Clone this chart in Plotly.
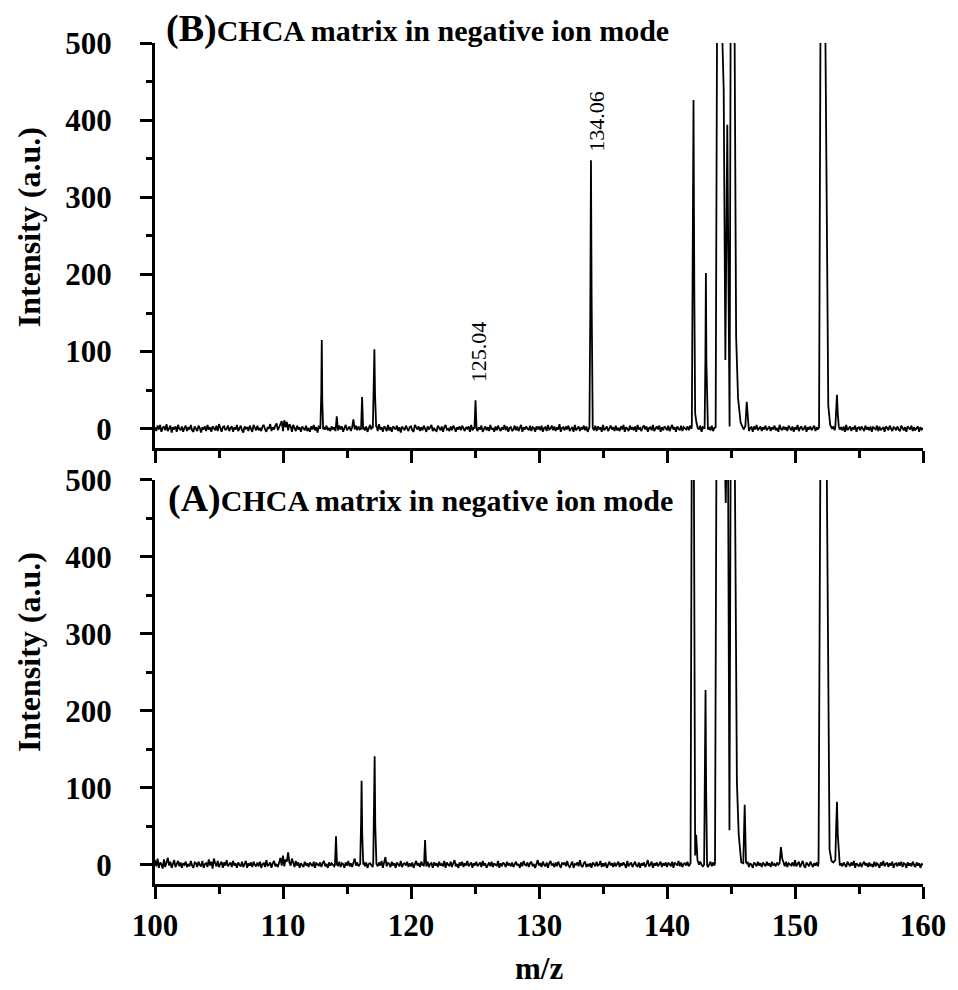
import numpy as np
import plotly.graph_objects as go

FONT = "Liberation Serif, Times New Roman, serif"

# ── baseline noise (m/z 100 → 160, 0.1 steps) ───────────────────────────────
base_b = [
    2, -3, 4, -1, 5, -4, 1, 3, -2, 6, -3, 0, 4, -5, 2, -1, 3, -4, 5, 0,
    -2, 3, -4, 1, 4, -3, 2, -1, 5, -2, -4, 3, 0, -3, 4, 1, -5, 2, -1, 3,
    -3, 5, -1, 2, -4, 3, 1, -2, 4, -3, 6, -1, -4, 2, 3, -2, 0, 4, -3, 1,
    3, -4, 2, -1, 5, -3, 1, 4, -2, -5, 3, 0, 2, -3, 4, -1, -4, 5, 1, -2,
    4, -2, 1, -3, 3, 5, -1, -4, 2, 0, 6, -3, 2, -1, 4, 7, -2, 3, 8, 10,
    -3, 11, 2, 9, -2, 6, 3, -4, 5, 1, -3, 4, -1, 2, -4, 3, 0, -2, 4, -3,
    1, -4, 3, -1, 5, -2, 2, -5, 4, 0, 3, -3, 2, -1, 4, -2, 1, -3, 3, -1,
    2, -3, 8, -2, 4, -1, 3, -4, 1, 5, -2, 0, 3, -3, 2, 12, -1, 4, -2, 3,
    -1, 4, -3, 2, -2, 3, -4, 1, 5, -1, 3, -2, 0, 4, -3, 6, -1, 2, -4, 3,
    1, -3, 5, -2, 2, -4, 3, 0, -1, 4, -3, 2, -5, 3, 1, -2, 4, -1, -3, 2,
    3, -2, -4, 5, 1, -1, 3, -3, 2, -2, 4, 0, -4, 3, -1, 2, 5, -3, 1, -2,
    -3, 4, 1, -2, 3, -4, 2, 5, -1, 0, -3, 3, -2, 4, 1, -4, 2, -1, 3, -2,
    4, -1, -3, 2, 0, 3, -4, 5, -2, 1, 2, 3, -3, 2, -1, 4, -4, 1, 3, -2,
    2, -3, 5, -1, 1, -4, 3, -2, 4, 0, -3, 2, -1, 5, -2, 3, -4, 1, 2, -3,
    -1, 4, -2, 3, -3, 1, 5, -4, 2, -1, 3, 0, -2, 4, -3, 2, 1, -4, 3, -1,
    3, -2, 4, -4, 1, 2, -3, 5, -1, 0, 4, -2, 3, -3, 2, -1, 6, -4, 1, 2,
    -2, 3, -1, 4, -3, 0, 2, -4, 5, -2, 1, 3, -3, 2, -1, 4, -2, 3, -4, 1,
    2, 0, 1, -2, 4, -3, 3, -1, 2, -4, 5, -2, 1, 3, -3, 0, 4, -1, 2, -3,
    4, -2, 1, -3, 3, -1, 5, -4, 2, 0, -3, 4, -1, 2, -2, 3, -4, 5, -1, 1,
    -3, 2, 4, -1, 3, -4, 1, 2, -2, 5, -3, 0, 3, -1, 4, -4, 2, -2, 3, 1,
    -2, 4, -3, 1, 5, -1, 2, -4, 3, 0, -2, 4, -3, 2, 1, -1, 3, -2, 4, 0,
    1, -2, 3, -3, 2, -1, 4, -4, 2, 1, -3, 3, -1, 2, -2, 4, -3, 1, 2, -1,
    2, -1, 3, -2, 1, 0, 2, -3, 4, -1, 2, -2, 3, 1, -3, 2, -1, 3, -2, 1,
    -1, 3, -2, 4, -3, 1, 2, -4, 3, -1, 5, -2, 0, 3, -3, 2, -1, 4, -2, 1,
    3, -3, 2, -1, 4, -2, 1, -4, 5, 0, -2, 3, -1, 2, -3, 4, 1, -2, 3, -4,
    2, -1, 5, -3, 1, 3, -2, 0, 4, -4, 2, -1, 3, -2, 1, 4, -3, 2, -1, 3,
    -2, 1, 3, -3, 2, -1, 4, -4, 2, 0, 3, -2, 1, -3, 4, -1, 2, -2, 3, -4,
    5, -2, 1, 3, -3, 2, -1, 4, -4, 1, 2, -2, 3, 0, -3, 4, -1, 2, -2, 3,
    -4, 2, 1, -1, 4, -3, 3, -2, 0, 2, -4, 3, 1, -2, 4, -1, -3, 2, 1, -2,
    3, -1, -3, 4, 0, -2, 2, -4, 3, 1, -1, 4, -3, 2, -2, 1, 3, -4, 2, -1,
    1,
]

base_a = [
    6, -2, 8, -4, 3, 1, -5, 7, -3, 2, 9, -1, 4, -4, 2, 6, -3, 1, 5, -2,
    3, -4, 2, 0, 4, -3, 1, -2, 5, -1, -4, 3, 2, -3, 4, 0, -2, 5, -4, 1,
    2, -3, 7, -1, 4, -5, 8, 2, -2, 5, -3, 1, 4, -4, 3, -1, 6, -2, 0, 3,
    -3, 5, -1, 2, -4, 3, 0, -2, 4, -3, 1, 5, -4, 2, -1, 3, -3, 4, 0, -2,
    3, -2, 4, -4, 1, 2, -3, 6, -1, 0, 3, -4, 2, 5, -2, 1, -3, 4, 9, -1,
    12, -2, 7, 4, 16, 3, -1, 8, 2, -3, 5, -1, 3, -4, 2, 0, -3, 4, -1, 2,
    -3, 3, 1, -2, 4, -4, 2, 0, -1, 3, -3, 2, 5, -2, 1, -4, 3, -1, 2, 0,
    -2, 3, 0, -1, 4, -3, 2, 1, -4, 3, -1, 5, -2, 2, -3, 4, 8, -1, 3, -2,
    1, -3, 2, 4, -2, 3, -4, 1, 2, -1, -3, 4, 0, 2, -2, 3, -1, 5, -4, 2,
    10, -2, 3, 1, -3, 4, -1, 2, -4, 3, 0, -2, 5, -3, 1, 2, -1, 4, -3, 2,
    -2, 3, -4, 1, 5, -1, 2, -3, 4, 0, -1, 3, -2, 4, -3, 1, 2, -4, 3, -1,
    2, -3, 4, -1, 1, -2, 5, -4, 3, 0, -1, 4, -3, 2, 6, -2, 1, -4, 3, -1,
    4, -3, 2, -1, 5, -2, 1, 3, -4, 2, -1, 4, -2, 0, 3, -3, 5, -1, 2, -4,
    1, 3, -2, 4, -3, 2, 0, -1, 5, -4, 2, -2, 3, 1, -3, 4, -1, 2, -2, 3,
    -3, 2, 4, -1, 1, -4, 3, -2, 5, 0, -1, 3, -3, 2, 4, -2, 1, -4, 3, 6,
    -1, 2, -3, 4, 0, -2, 3, -4, 2, 5, -1, 1, -3, 3, -2, 4, 0, -4, 2, 1,
    3, -2, 5, -1, -3, 2, 4, -4, 1, 0, 3, -2, 6, -1, -3, 2, 4, -3, 1, -2,
    2, -4, 3, 1, -2, 4, -1, 0, 5, -3, 2, -2, 3, -4, 1, 4, -1, 2, -3, 3,
    -2, 1, 4, -3, 2, -1, 3, 0, -4, 5, -2, 1, 3, -3, 2, 4, -1, -2, 3, -4,
    2, -1, 3, -3, 1, 6, -2, 0, 4, -4, 2, -1, 3, -2, 1, 4, -3, 2, -1, 3,
    -3, 2, 1, -2, 4, -4, 3, 0, -1, 5, -2, 3, -3, 1, 2, -1, 4, -2, 1, 3,
    1, -2, 3, -1, 2, -3, 4, 0, -2, 3, -1, 2, -3, 1, 4, -2, 3, -1, 2, 0,
    2, -1, 3, -2, 1, 0, 2, -3, 4, -1, 2, -2, 3, 1, -3, 2, -1, 3, -2, 1,
    -2, 3, -1, 4, -3, 2, 0, -4, 3, 1, -2, 4, -1, 2, -3, 3, 1, -2, 4, -1,
    2, -3, 4, -1, 1, -2, 3, 0, -1, 2, 3, 5, -2, 4, -3, 2, 1, -1, 3, -2,
    6, -2, 1, 4, -3, 2, 5, -1, -4, 3, 1, -2, 4, 0, -3, 2, -1, 3, -2, 1,
    2, -1, 3, -2, 1, -3, 4, -1, 2, 0, 3, -2, 1, -3, 4, -1, 2, -2, 3, -1,
    -3, 4, 1, -2, 3, -1, 5, -4, 2, 0, -2, 3, -3, 1, 4, -1, 2, -3, 3, -2,
    1, -3, 4, -2, 2, 0, -4, 3, -1, 5, -2, 1, 3, -3, 2, -1, 4, -4, 1, 2,
    -2, 3, -1, 4, -3, 2, 1, -4, 3, -1, 2, -2, 4, 0, -3, 3, -1, 2, -4, 1,
    0,
]

# ── peak profiles (m/z, intensity); values above 500 run off the top ──────
peaks_b = [
    [(112.92, 1), (112.99, 45), (113.03, 115), (113.07, 35), (113.14, -1)],
    [(114.12, 0), (114.2, 16), (114.28, 1)],
    [(116.1, 0), (116.18, 41), (116.26, -1)],
    [(117.02, 1), (117.09, 55), (117.14, 103), (117.19, 45), (117.28, 2)],
    [(124.96, 1), (125.04, 37), (125.12, 0)],
    [(133.94, 2), (134.01, 160), (134.06, 348), (134.11, 170), (134.19, 2)],
    [(141.94, 3), (142.01, 180), (142.07, 426), (142.13, 190), (142.2, 20),
     (142.3, 8), (142.4, 1)],
    [(142.94, 0), (143.0, 90), (143.04, 202), (143.08, 85), (143.15, 0)],
    [(143.8, 2), (143.91, 520), (144.1, 2500), (144.3, 520), (144.43, 440),
     (144.56, 89), (144.71, 394), (144.89, 3), (144.97, 520), (145.12, 2500),
     (145.28, 520), (145.4, 120), (145.55, 40), (145.75, 8), (145.95, 1)],
    [(146.12, 3), (146.23, 35), (146.35, 2)],
    [(151.88, 2), (151.99, 520), (152.17, 3000), (152.37, 520), (152.6, 30),
     (152.75, 5), (152.85, 2)],
    [(153.15, 2), (153.22, 25), (153.28, 44), (153.34, 20), (153.42, 3)],
]

peaks_a = [
    [(114.06, 0), (114.14, 37), (114.22, 0)],
    [(116.03, 1), (116.1, 55), (116.14, 109), (116.19, 40), (116.27, 0)],
    [(117.05, 2), (117.12, 75), (117.16, 141), (117.21, 50), (117.3, 1)],
    [(121.02, 1), (121.1, 32), (121.18, 1)],
    [(141.84, 2), (141.93, 520), (142.02, 3000), (142.1, 520), (142.2, 12),
     (142.28, 39), (142.38, 6), (142.5, 0)],
    [(142.9, 0), (142.96, 110), (143.01, 227), (143.06, 95), (143.13, 0)],
    [(143.75, 2), (143.86, 520), (144.2, 3000), (144.53, 520), (144.59, 470),
     (144.64, 520), (144.7, 1200), (144.77, 520), (144.88, 45), (144.97, 520),
     (145.12, 2500), (145.3, 520), (145.46, 108), (145.6, 40), (145.8, 3),
     (145.96, 2), (146.07, 78), (146.17, 3), (146.28, 1)],
    [(148.8, 2), (148.9, 23), (149.0, 8), (149.1, 2)],
    [(151.84, 2), (151.98, 520), (152.2, 3000), (152.48, 520), (152.7, 20),
     (152.85, 5), (153.0, 3), (153.15, 6), (153.22, 50), (153.28, 82),
     (153.34, 40), (153.45, 2)],
]

peak_labels = ["125.04", "134.06"]
label_pos = [(125.04, 37), (134.06, 348)]


def build(base, peaks):
    xs = np.linspace(100, 160, len(base))
    spans = [(min(p[0] for p in c), max(p[0] for p in c)) for c in peaks]
    pts = [(x, y) for x, y in zip(xs, base)
           if not any(lo <= x <= hi for lo, hi in spans)]
    for c in peaks:
        pts.extend(c)
    pts.sort()
    return [p[0] for p in pts], [p[1] for p in pts]


xb, yb = build(base_b, peaks_b)
xa, ya = build(base_a, peaks_a)

fig = go.Figure()
fig.add_trace(go.Scatter(x=xb, y=yb, mode='lines', xaxis='x', yaxis='y',
                         line=dict(color='black', width=1.8), showlegend=False))
fig.add_trace(go.Scatter(x=xa, y=ya, mode='lines', xaxis='x2', yaxis='y2',
                         line=dict(color='black', width=1.8), showlegend=False))

tick_font = dict(family=FONT, size=31, color='black', weight='bold')
xcommon = dict(range=[100, 160], showgrid=False, zeroline=False,
               showline=True, linewidth=3, linecolor='black',
               ticks='outside', ticklen=12, tickwidth=3, tickcolor='black',
               dtick=10, tick0=100,
               minor=dict(ticks='outside', ticklen=7, tickwidth=3,
                          tickcolor='black', dtick=5, tick0=100),
               tickfont=tick_font)
ycommon = dict(range=[-25, 500], showgrid=False, zeroline=False,
               showline=True, linewidth=3, linecolor='black',
               ticks='outside', ticklen=12, tickwidth=3, tickcolor='black',
               dtick=100, tick0=0,
               minor=dict(ticks='outside', ticklen=6, tickwidth=3,
                          tickcolor='black', dtick=50, tick0=0),
               tickfont=tick_font, ticklabelstandoff=22)

# page body adds an 8px margin, so the figure is 8px smaller than the window
fig.update_layout(
    width=950, height=982,
    margin=dict(l=147, r=28, t=35, b=106),
    paper_bgcolor='white', plot_bgcolor='white',
    xaxis=dict(xcommon, anchor='y', domain=[0, 1], showticklabels=False),
    yaxis=dict(ycommon, anchor='x', domain=[0.5184, 1]),
    xaxis2=dict(xcommon, anchor='y2', domain=[0, 1]),
    yaxis2=dict(ycommon, anchor='x2', domain=[0, 0.4804]),
)

title_tpl = "<b><span style='font-size:38px'>({})</span>CHCA matrix in negative ion mode</b>"
fig.add_annotation(text=title_tpl.format('B'), xref='x', yref='y', x=100.77, y=500,
                   xanchor='left', yanchor='bottom', yshift=-8, showarrow=False,
                   borderpad=0, font=dict(family=FONT, size=30, color='black'))
fig.add_annotation(text=title_tpl.format('A'), xref='x2', yref='y2', x=100.9, y=457,
                   xanchor='left', yanchor='bottom', yshift=-8, showarrow=False,
                   borderpad=0, font=dict(family=FONT, size=30, color='black'))

for lbl, (px_, py_), sh in zip(peak_labels, label_pos, [(3, 17), (6, 8)]):
    fig.add_annotation(text=lbl, xref='x', yref='y', x=px_, y=py_,
                       xanchor='center', yanchor='bottom', textangle=-90,
                       xshift=sh[0], yshift=sh[1], showarrow=False, borderpad=0,
                       font=dict(family=FONT, size=22, color='black'))

for yc in [0.7812, 0.2759]:
    fig.add_annotation(text="<b>Intensity (a.u.)</b>", xref='paper', yref='paper',
                       x=-0.1639, y=yc, xanchor='center', yanchor='middle',
                       textangle=-90, showarrow=False,
                       font=dict(family=FONT, size=32, color='black'))

fig.add_annotation(text="<b>m/z</b>", xref='paper', yref='paper', x=0.5, y=-0.0999,
                   xanchor='center', yanchor='middle', showarrow=False,
                   font=dict(family=FONT, size=31, color='black'))

fig.write_html("out.html")
